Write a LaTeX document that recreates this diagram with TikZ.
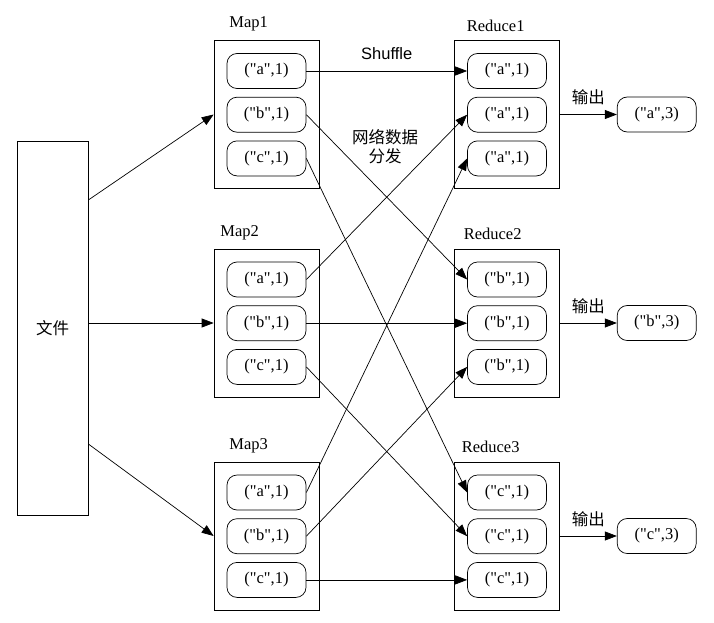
\documentclass[tikz,border=0pt]{standalone}
\usepackage{fontspec}
\setmainfont{Liberation Serif}[Ligatures=TeXOff]
\setsansfont{Liberation Sans}
\newfontfamily\cjk{Noto Sans CJK SC}
\usetikzlibrary{positioning,shapes,arrows.meta}

\begin{document}
\begin{tikzpicture}[x=1pt, y=-1pt, node distance=8pt and 57pt,
  >={Triangle[length=12pt,width=9pt]}, line width=0.7pt,
  font=\fontsize{16.5}{19}\selectfont,
  group/.style={draw, rectangle, minimum width=105pt, minimum height=148pt},
  pair/.style={draw, rectangle, rounded corners=10pt, minimum width=79pt, minimum height=35pt, inner sep=0pt}]
  \useasboundingbox (0,0) rectangle (714,623);

  \node[draw, rectangle, minimum width=71pt, minimum height=374pt] (file) at (52.5,328) {\cjk 文件};

  % map side
  \node[group] (M1) at (266.5,114.5) {};
  \node[group] (M2) at (266.5,323) {};
  \node[group] (M3) at (266.5,536) {};
  \node[anchor=south west] (M1lab) at ([xshift=12pt,yshift=5pt]M1.north west) {Map1};
  \node[anchor=south west] (M2lab) at ([xshift=3pt,yshift=5pt]M2.north west) {Map2};
  \node[anchor=south west] (M3lab) at ([xshift=12pt,yshift=5pt]M3.north west) {Map3};

  \node[pair, below=13pt of M1.north] (M1a) {("a",1)};
  \node[pair, below=of M1a] (M1b) {("b",1)};
  \node[pair, below=of M1b] (M1c) {("c",1)};
  \node[pair, below=13pt of M2.north] (M2a) {("a",1)};
  \node[pair, below=of M2a] (M2b) {("b",1)};
  \node[pair, below=of M2b] (M2c) {("c",1)};
  \node[pair, below=13pt of M3.north] (M3a) {("a",1)};
  \node[pair, below=of M3a] (M3b) {("b",1)};
  \node[pair, below=of M3b] (M3c) {("c",1)};

  % reduce side
  \node[group] (R1) at (507,114.5) {};
  \node[group] (R2) at (507,323) {};
  \node[group] (R3) at (507,536) {};
  \node[anchor=south west] (R1lab) at ([xshift=9pt,yshift=5pt]R1.north west) {Reduce1};
  \node[anchor=south west] (R2lab) at ([xshift=6pt,yshift=5pt]R2.north west) {Reduce2};
  \node[anchor=south west] (R3lab) at ([xshift=4pt,yshift=5pt]R3.north west) {Reduce3};

  \node[pair, below=13pt of R1.north] (R1a) {("a",1)};
  \node[pair, below=of R1a] (R1b) {("a",1)};
  \node[pair, below=of R1b] (R1c) {("a",1)};
  \node[pair, below=13pt of R2.north] (R2a) {("b",1)};
  \node[pair, below=of R2a] (R2b) {("b",1)};
  \node[pair, below=of R2b] (R2c) {("b",1)};
  \node[pair, below=13pt of R3.north] (R3a) {("c",1)};
  \node[pair, below=of R3a] (R3b) {("c",1)};
  \node[pair, below=of R3b] (R3c) {("c",1)};

  \node[pair, right=of R1] (O1) {("a",3)};
  \node[pair, right=of R2] (O2) {("b",3)};
  \node[pair, right=of R3] (O3) {("c",3)};

  \node[align=center] (net) at (385,147) {\cjk 网络数据\\\cjk 分发};

  \draw[->] ([yshift=128pt]file.east) -- (M1.west);
  \draw[->] (file.east |- M2.west) -- (M2.west);
  \draw[->] ([yshift=-116pt]file.east) -- (M3.west);

  \draw[->] (M1a.east) -- node[above=8pt, font=\fontsize{16.5}{19}\sffamily] (shuf) {Shuffle} (R1a.west);
  \draw[->] (M1b.east) -- (R2a.west);
  \draw[->] (M1c.east) -- (R3a.west);
  \draw[->] (M2a.east) -- (R1b.west);
  \draw[->] (M2b.east) -- (R2b.west);
  \draw[->] (M2c.east) -- (R3b.west);
  \draw[->] (M3a.east) -- (R1c.west);
  \draw[->] (M3b.east) -- (R2c.west);
  \draw[->] (M3c.east) -- (R3c.west);

  \draw[->] (R1) -- node[above=6pt] {\cjk 输出} (O1);
  \draw[->] (R2) -- node[above=6pt] {\cjk 输出} (O2);
  \draw[->] (R3) -- node[above=6pt] {\cjk 输出} (O3);
\end{tikzpicture}
\end{document}
